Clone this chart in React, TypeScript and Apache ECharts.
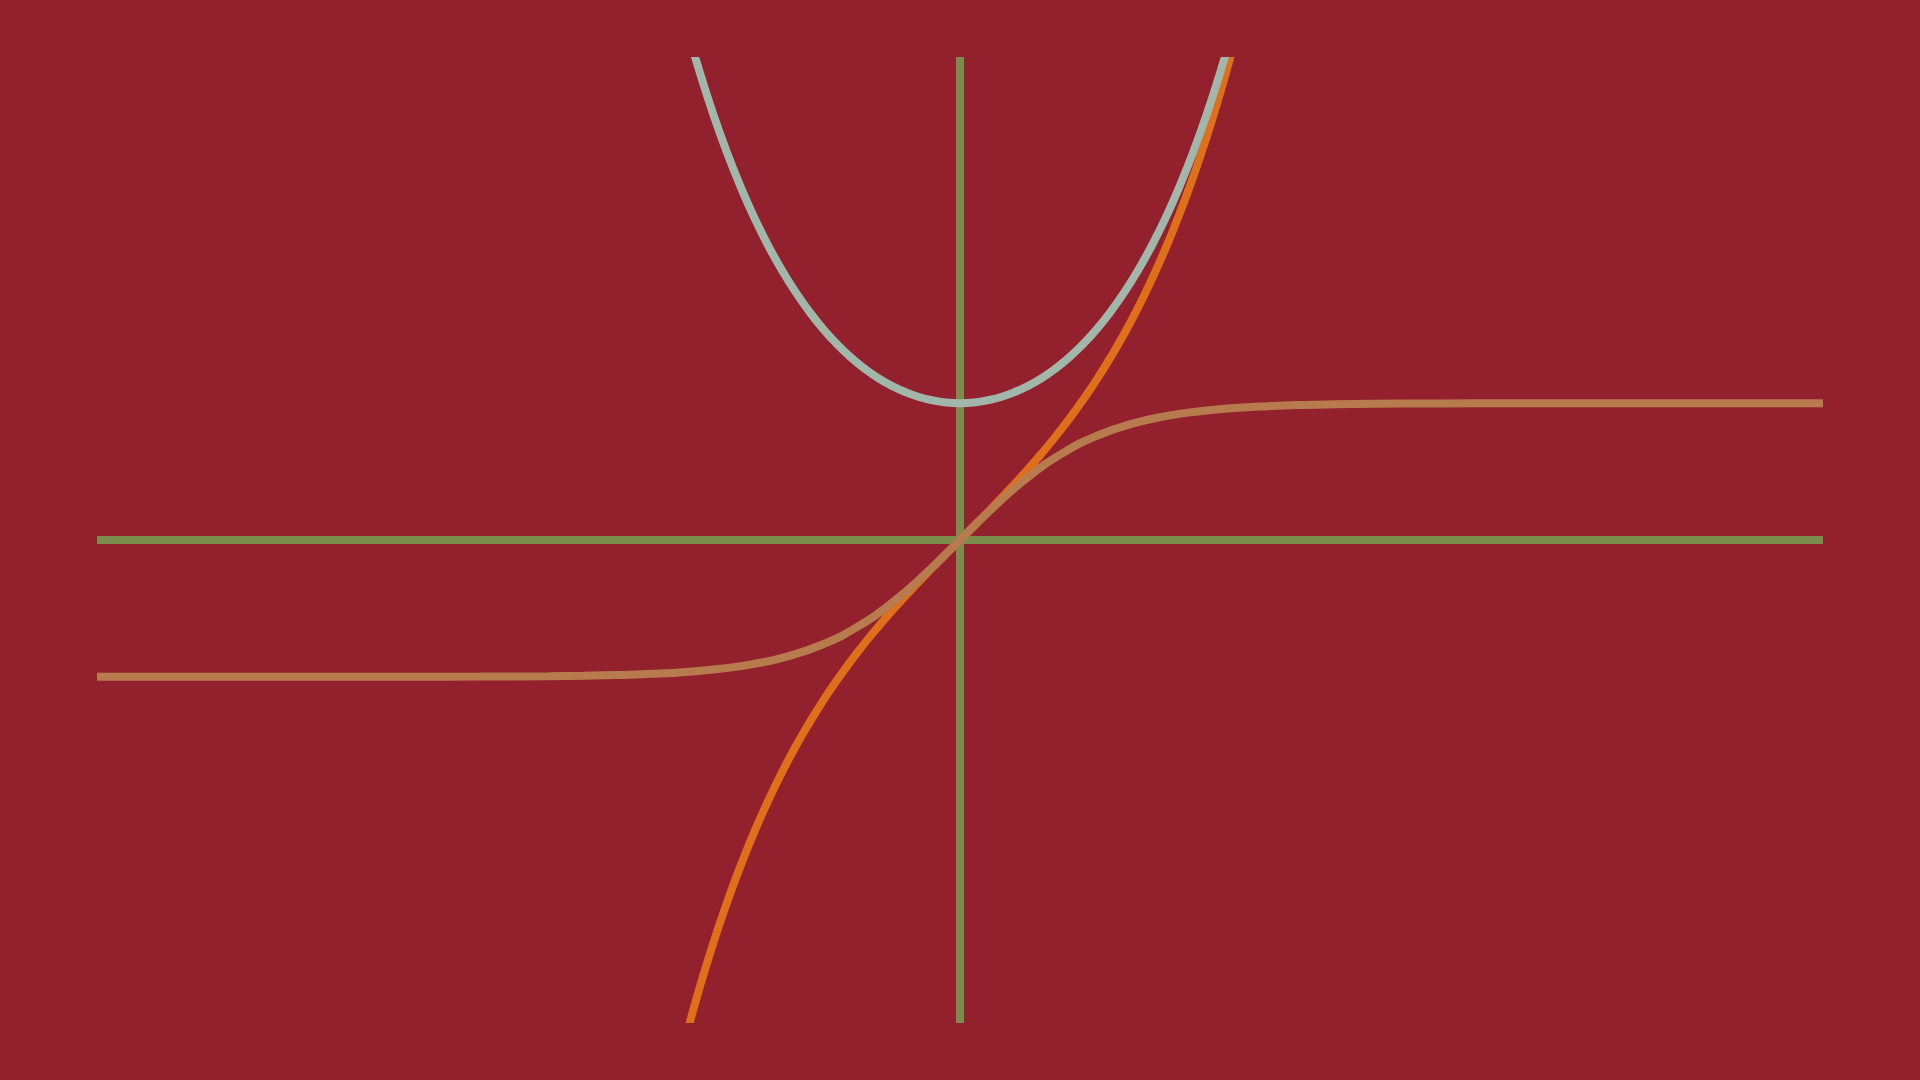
import React, { useEffect, useRef } from "react";
import * as echarts from "echarts";

const xSteep = [-2.1, -2.0, -1.9, -1.8, -1.7, -1.6, -1.5, -1.4, -1.3, -1.2, -1.1, -1.0, -0.9, -0.8, -0.7, -0.6, -0.5, -0.4, -0.3, -0.2, -0.1, 0,
  0.1, 0.2, 0.3, 0.4, 0.5, 0.6, 0.7, 0.8, 0.9, 1.0, 1.1, 1.2, 1.3, 1.4, 1.5, 1.6, 1.7, 1.8, 1.9, 2.0, 2.1];
const coshValues = [4.144, 3.762, 3.418, 3.107, 2.828, 2.577, 2.352, 2.151, 1.971, 1.811, 1.669, 1.543, 1.433, 1.337, 1.255, 1.185, 1.128, 1.081, 1.045, 1.020, 1.005, 1.000,
  1.005, 1.020, 1.045, 1.081, 1.128, 1.185, 1.255, 1.337, 1.433, 1.543, 1.669, 1.811, 1.971, 2.151, 2.352, 2.577, 2.828, 3.107, 3.418, 3.762, 4.144];
const sinhValues = [-4.022, -3.627, -3.268, -2.942, -2.646, -2.376, -2.129, -1.904, -1.698, -1.509, -1.336, -1.175, -1.027, -0.888, -0.759, -0.637, -0.521, -0.411, -0.305, -0.201, -0.100, 0,
  0.100, 0.201, 0.305, 0.411, 0.521, 0.637, 0.759, 0.888, 1.027, 1.175, 1.336, 1.509, 1.698, 1.904, 2.129, 2.376, 2.646, 2.942, 3.268, 3.627, 4.022];
const xTanh = [-6.3, -5.5, -5, -4.5, -4, -3.5, -3, -2.75, -2.5, -2.25, -2, -1.75, -1.5, -1.25, -1, -0.75, -0.5, -0.25, 0,
  0.25, 0.5, 0.75, 1, 1.25, 1.5, 1.75, 2, 2.25, 2.5, 2.75, 3, 3.5, 4, 4.5, 5, 5.5, 6.3];
const tanhValues = [-1.0, -1.0, -1.0, -1.0, -0.999, -0.998, -0.995, -0.992, -0.987, -0.978, -0.964, -0.941, -0.905, -0.848, -0.762, -0.635, -0.462, -0.245, 0,
  0.245, 0.462, 0.635, 0.762, 0.848, 0.905, 0.941, 0.964, 0.978, 0.987, 0.992, 0.995, 0.998, 0.999, 1.0, 1.0, 1.0, 1.0];
const xAxisLine = [[-6.3, 0], [6.3, 0]];
const yAxisLine = [[0, -3.6], [0, 3.6]];

const X_MIN = -6.3, X_MAX = 6.3, Y_MIN = -3.5, Y_MAX = 3.5;

export default function App() {
  const ref = useRef<HTMLDivElement>(null);
  useEffect(() => {
    if (!ref.current) return;
    const chart = echarts.init(ref.current, undefined, { renderer: "svg" });
    const pair = (xs: number[], ys: number[]) => xs.map((x, i) => [x, ys[i]]);
    const green = "#7B8C4D";
    const hiddenAxis = {
      type: "value",
      axisLine: { show: false }, axisTick: { show: false }, axisLabel: { show: false }, splitLine: { show: false },
    };
    const lineBase = { type: "line", showSymbol: false, clip: true };
    chart.setOption({
      animation: false,
      backgroundColor: "#92202D",
      grid: { left: 97, right: 97, top: 61, bottom: 61 },
      xAxis: { ...hiddenAxis, min: X_MIN, max: X_MAX },
      yAxis: { ...hiddenAxis, min: Y_MIN, max: Y_MAX },
      series: [
        { ...lineBase, name: "x-axis", data: xAxisLine, lineStyle: { color: green, width: 8, cap: "butt" }, z: 1 },
        { ...lineBase, name: "y-axis", data: yAxisLine, lineStyle: { color: green, width: 8, cap: "butt" }, z: 1 },
        { ...lineBase, name: "sinh", data: pair(xSteep, sinhValues), smooth: true, lineStyle: { color: "#DF6F1A", width: 8 }, z: 3 },
        { ...lineBase, name: "cosh", data: pair(xSteep, coshValues), smooth: true, lineStyle: { color: "#A0B7AA", width: 8 }, z: 4 },
        { ...lineBase, name: "tanh", data: pair(xTanh, tanhValues), smooth: true, lineStyle: { color: "#B87B4D", width: 8 }, z: 5 },
      ],
    });
    return () => chart.dispose();
  }, []);
  return <div ref={ref} style={{ position: "fixed", left: 0, top: 0, width: 1920, height: 1080 }} />;
}
